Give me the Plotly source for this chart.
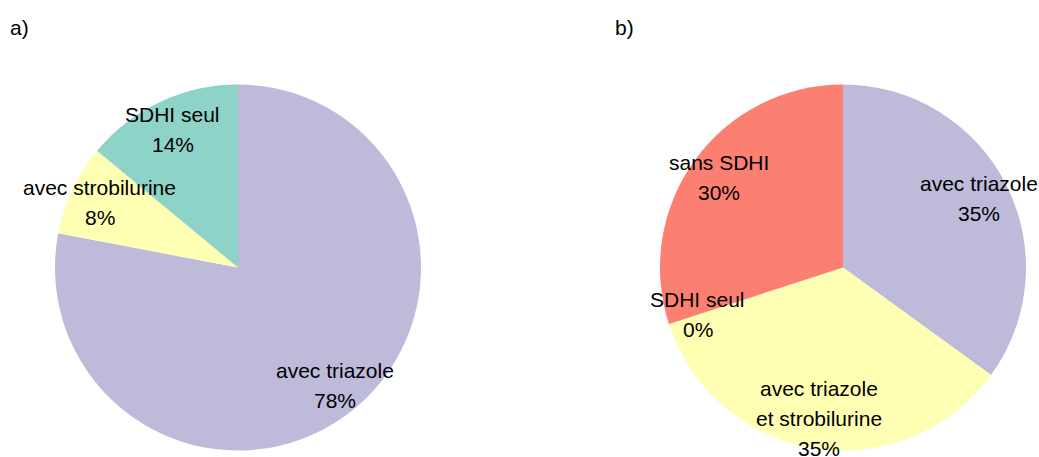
import math
import plotly.graph_objects as go

W, H = 1039, 457

# Panel a
cats_a = ["avec triazole", "avec strobilurine", "SDHI seul"]
vals_a = [78, 8, 14]
cols_a = ["#BEBADA", "#FFFFB3", "#8DD3C7"]

# Panel b
cats_b = ["avec triazole", "avec triazole\net strobilurine", "SDHI seul", "sans SDHI"]
vals_b = [35, 35, 0, 30]
cols_b = ["#BEBADA", "#FFFFB3", "#8DD3C7", "#FB8072"]

panel_titles = ["a)", "b)"]

FONT = "Liberation Sans, Arial, Helvetica, sans-serif"
FS = 21
R = 183.0
CY = 267.5
centers_x = [238.0, 843.0]
R_LABEL = 0.835
LINE = 30

fig = go.Figure()
annotations = []

for cats, vals, cols, cx in [(cats_a, vals_a, cols_a, centers_x[0]),
                             (cats_b, vals_b, cols_b, centers_x[1])]:
    dom_x = [(cx - R) / W, (cx + R) / W]
    dom_y = [(H - (CY + R)) / H, (H - (CY - R)) / H]
    fig.add_trace(go.Pie(
        labels=cats, values=vals,
        marker=dict(colors=cols, line=dict(width=0)),
        sort=False, direction="clockwise", rotation=0,
        textinfo="none", hoverinfo="label+percent",
        domain=dict(x=dom_x, y=dom_y), showlegend=False,
    ))
    total = sum(vals)
    cum = 0
    for c, v in zip(cats, vals):
        mid = (cum + v / 2) / total * 2 * math.pi
        cum += v
        lx = cx + R * R_LABEL * math.sin(mid)
        ly = CY - R * R_LABEL * math.cos(mid)
        lines = c.split("\n") + [f"{round(v / total * 100)}%"]
        n = len(lines)
        for i, t in enumerate(lines):
            yy = ly + (i - (n - 1) / 2) * LINE
            annotations.append(dict(
                x=lx / W, y=(H - yy) / H, xref="paper", yref="paper",
                text=t, showarrow=False, xanchor="center", yanchor="middle",
                font=dict(family=FONT, size=FS, color="black"),
            ))

for t, x in zip(panel_titles, [8, 613]):
    annotations.append(dict(
        x=x / W, y=(H - 28) / H, xref="paper", yref="paper", text=t,
        showarrow=False, xanchor="left", yanchor="middle",
        font=dict(family=FONT, size=FS, color="black"),
    ))

fig.update_layout(
    width=W, height=H,
    margin=dict(l=0, r=0, t=0, b=0),
    paper_bgcolor="white", plot_bgcolor="white",
    annotations=annotations,
    font=dict(family=FONT),
)

fig.write_html(
    "out.html",
    config={"displayModeBar": False},
    post_script="document.body.style.margin='0px';document.body.style.overflow='hidden';",
)
